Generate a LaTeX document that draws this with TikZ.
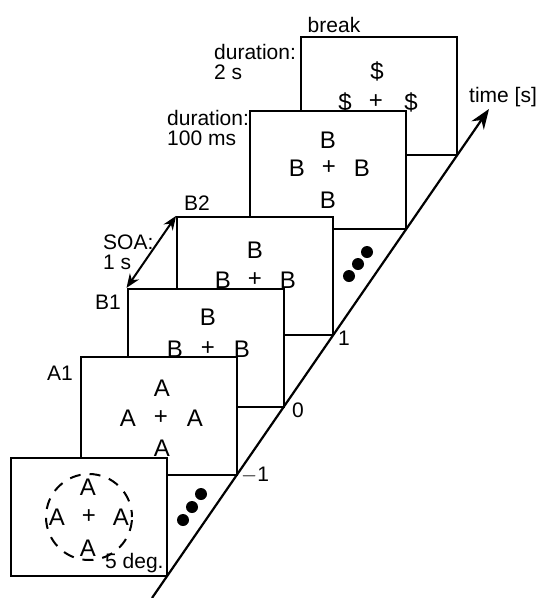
\documentclass[tikz,border=0pt]{standalone}
\usepackage{fontspec}
\setmainfont{Liberation Sans}
\usetikzlibrary{arrows.meta}
\tikzset{
  stim/.style={draw, line width=2.2pt, fill=white, minimum width=156pt, minimum height=118pt, inner sep=0pt},
  glyph/.style={inner sep=0pt, font=\fontsize{24}{24}\selectfont},
  lbl/.style={inner sep=0pt, font=\fontsize{21}{20}\selectfont, align=left},
  dot/.style={circle, fill=black, inner sep=0pt, minimum size=12pt},
  axisline/.style={line width=2.2pt, -{Stealth[length=20pt,width=15pt]}},
  soa/.style={line width=2pt, {Stealth[length=14pt,width=11pt]}-{Stealth[length=14pt,width=11pt]}},
  ring/.style={circle, draw, line width=2pt, minimum size=86pt, inner sep=0pt, dash pattern=on 11pt off 9pt, dash phase=4pt},
}
\begin{document}
\begin{tikzpicture}[x=1pt,y=-1pt]
\useasboundingbox (0,0) rectangle (537,598);
% break box
\node[stim] (brk) at (379.2,96) {};
\node[glyph] (brk1) at (377,71) {\$};
\node[glyph] (brk2) at (345,102) {\$};
\node[glyph] (brk3) at (376,102) {+};
\node[glyph] (brk4) at (411,102) {\$};
% B box (100 ms)
\node[stim] (bb) at (328.2,170) {};
\node[glyph] (bb1) at (328,140) {B};
\node[glyph] (bb2) at (297,168) {B};
\node[glyph] (bb3) at (329,168) {+};
\node[glyph] (bb4) at (362,168) {B};
\node[glyph] (bb5) at (328,200) {B};
\node[dot] (da1) at (349,276) {};
\node[dot] (da2) at (358,264) {};
\node[dot] (da3) at (367,252) {};
% B2
\node[stim] (b2) at (255.2,276) {};
\node[glyph] (b21) at (255,250) {B};
\node[glyph] (b22) at (223,280) {B};
\node[glyph] (b23) at (255,280) {+};
\node[glyph] (b24) at (288,280) {B};
% B1
\node[stim] (b1) at (205.6,348) {};
\node[glyph] (b11) at (208,317) {B};
\node[glyph] (b12) at (175,349) {B};
\node[glyph] (b13) at (208,349) {+};
\node[glyph] (b14) at (242,349) {B};
% A1
\node[stim] (a1) at (158.7,416) {};
\node[glyph] (a11) at (162,388) {A};
\node[glyph] (a12) at (128,418) {A};
\node[glyph] (a13) at (161,418) {+};
\node[glyph] (a14) at (195,418) {A};
\node[glyph] (a15) at (162,448) {A};
\node[dot] (db1) at (183,520) {};
\node[dot] (db2) at (192,507) {};
\node[dot] (db3) at (201,494) {};
% first box
\node[stim] (a0) at (89.2,517) {};
\node[ring] (circ) at (89,517) {};
\node[glyph] (a01) at (88,487) {A};
\node[glyph] (a02) at (57,517) {A};
\node[glyph] (a03) at (89,517) {+};
\node[glyph] (a04) at (121,517) {A};
\node[glyph] (a05) at (88,548) {A};
\node[lbl, anchor=west] (deg) at (105,563) {5 deg.};
% axis
\coordinate (ax0) at (152,598);
\coordinate (ax1) at (489,109);
\draw[axisline] (ax0) -- (ax1);
\node[lbl, anchor=west] (time) at (469,97) {time [s]};
\node[lbl, anchor=west] (tm1) at (241,475) {$-$1};
\node[lbl, anchor=west] (t0) at (292,410) {0};
\node[lbl, anchor=west] (t1) at (338,338) {1};
% labels
\node[lbl] (lbrk) at (334,25) {break};
\node[lbl, anchor=west] (ldur2) at (214,62) {duration:\\2 s};
\node[lbl, anchor=west] (ldur1) at (167,128) {duration:\\100 ms};
\node[lbl] (lb2) at (197,203) {B2};
\node[lbl, anchor=west] (lsoa) at (103,252) {SOA:\\1 s};
\node[lbl] (lb1) at (108,302) {B1};
\node[lbl] (la1) at (60,373) {A1};
\draw[soa] (b2.north west) -- (b1.north west);
\end{tikzpicture}
\end{document}
